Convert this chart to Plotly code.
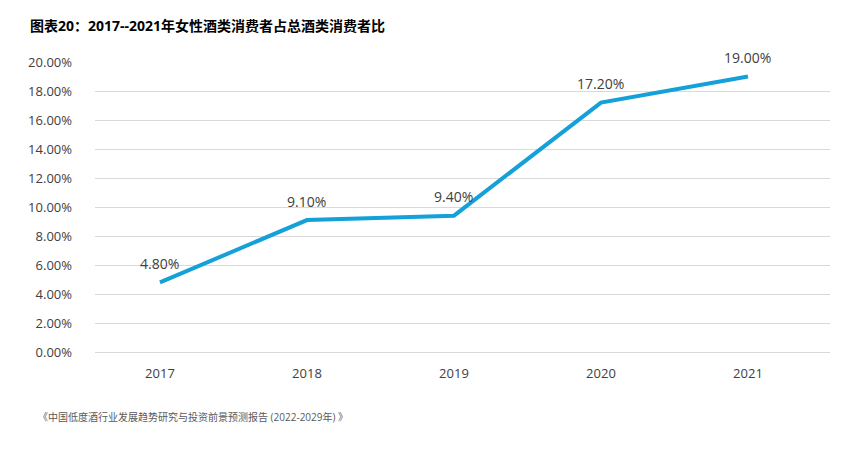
import plotly.graph_objects as go

years = ["2017", "2018", "2019", "2020", "2021"]
share = [4.80, 9.10, 9.40, 17.20, 19.00]
labels = ["4.80%", "9.10%", "9.40%", "17.20%", "19.00%"]
y_ticks = [0, 2, 4, 6, 8, 10, 12, 14, 16, 18, 20]
y_ticktext = ["%.2f%%" % v for v in y_ticks]
title = "图表20：2017--2021年女性酒类消费者占总酒类消费者比"
source = "《中国低度酒行业发展趋势研究与投资前景预测报告 (2022-2029年) 》"

font_family = "Open Sans, Noto Sans CJK SC, sans-serif"

W, H = 848, 449
ML, MR, MT, MB = 95, 18, 62, 97
pw = W - ML - MR
ph = H - MT - MB


def px_x(p):
    return (p - ML) / pw


def px_y(p):
    return 1 - (p - MT) / ph


fig = go.Figure()
fig.add_trace(go.Scatter(
    x=years, y=share, mode="lines",
    line=dict(color="#14A0D8", width=4),
    hoverinfo="skip", showlegend=False,
))

annotations = [
    dict(x=i, y=v, text=t, xref="x", yref="y", showarrow=False,
         yshift=19, xanchor="center", yanchor="middle",
         font=dict(size=14, color="#404040", family=font_family))
    for i, (v, t) in enumerate(zip(share, labels))
]
annotations += [
    dict(text="<b>" + title + "</b>", x=px_x(28), y=px_y(26), xref="paper", yref="paper",
         showarrow=False, xanchor="left", yanchor="middle",
         font=dict(size=14, color="#000000", family=font_family)),
    dict(text=source, x=px_x(36), y=px_y(417), xref="paper", yref="paper",
         showarrow=False, xanchor="left", yanchor="middle",
         font=dict(size=10, color="#595959", family=font_family)),
]

fig.update_layout(
    width=W, height=H,
    margin=dict(l=ML, r=MR, t=MT, b=MB, autoexpand=False),
    paper_bgcolor="white", plot_bgcolor="white",
    font=dict(family=font_family, color="#404040", size=13),
    xaxis=dict(type="category", range=[-0.442, 4.558], showgrid=False,
               showline=False, ticks="", ticklabelstandoff=12,
               tickfont=dict(size=13, color="#404040")),
    yaxis=dict(range=[0, 20], tickvals=y_ticks, ticktext=y_ticktext,
               showgrid=True, gridcolor="#D9D9D9", gridwidth=1,
               zeroline=True, zerolinecolor="#D9D9D9", zerolinewidth=1,
               showline=False, ticks="", ticklabelstandoff=22,
               tickfont=dict(size=13, color="#404040")),
    annotations=annotations,
)
fig.write_html("out.html", config={"displayModeBar": False},
               post_script="document.body.style.margin='0';")
